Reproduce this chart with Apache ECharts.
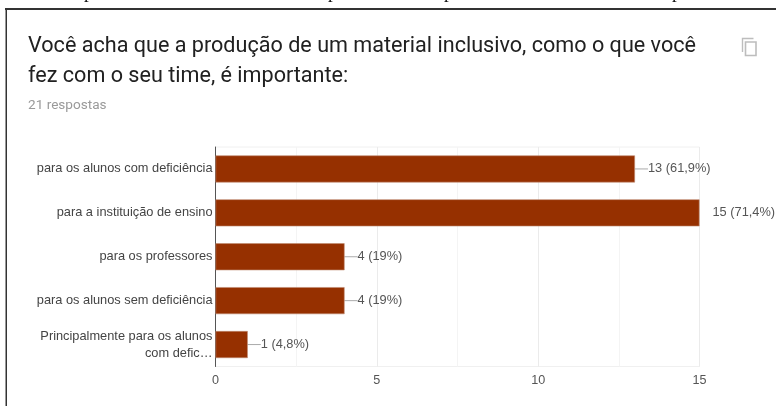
<!DOCTYPE html>
<html>
<head>
<meta charset="utf-8">
<style>html,body{margin:0;padding:0;background:#fff}#c{width:776px;height:406px}</style>
<script src="https://cdn.jsdelivr.net/npm/echarts@6/dist/echarts.min.js"></script>
</head>
<body>
<div id="c"></div>
<script>
const categories = [
  'para os alunos com deficiência',
  'para a instituição de ensino',
  'para os professores',
  'para os alunos sem deficiência',
  'Principalmente para os alunos\ncom defic…'
];
const counts = [13, 15, 4, 4, 1];
const shares = ['61,9%', '71,4%', '19%', '19%', '4,8%'];
const heading = 'Você acha que a produção de um material inclusivo, como o que você\nfez com o seu time, é importante:';
const responses = '21 respostas';
const tickValues = [0, 5, 10, 15];

const chart = echarts.init(document.getElementById('c'), null, { renderer: 'canvas' });
const font = 'Roboto, Arial, sans-serif';
const chartFont = '"Liberation Sans", Arial, sans-serif';

// Descenders of the line of body text running above the card
const clippedLine = [88, 332, 448, 676].map(x => ({
  type: 'text', x: x - 4, y: -16, silent: true,
  style: { text: 'p', font: '19px "Liberation Serif", serif', fill: '#111' }
}));

chart.setOption({
  animation: false,
  backgroundColor: '#fff',
  title: {
    text: heading, subtext: responses, left: 28, top: 31.5, itemGap: 7, padding: 0,
    textStyle: { fontFamily: font, fontSize: 21.6, fontWeight: 400, color: '#212121', lineHeight: 30 },
    subtextStyle: { fontFamily: font, fontSize: 13.6, color: '#9a9a9a' }
  },
  grid: { left: 215.5, right: 76.5, top: 147, bottom: 39.5, show: true, borderColor: '#f0f0f0', borderWidth: 1, containLabel: false },
  xAxis: {
    type: 'value', min: 0, max: 15, interval: 5,
    axisLine: { show: false }, axisTick: { show: false },
    axisLabel: { fontFamily: chartFont, fontSize: 12.6, color: '#555', margin: 8,
      formatter: v => tickValues.includes(v) ? String(v) : '' },
    splitLine: { lineStyle: { color: '#ebebeb', width: 1 } },
    minorTick: { show: false, splitNumber: 2 },
    minorSplitLine: { show: true, lineStyle: { color: '#f4f4f4', width: 1 } }
  },
  yAxis: {
    type: 'category', inverse: true, data: categories,
    axisTick: { show: false },
    axisLine: { lineStyle: { color: '#555', width: 1 } },
    axisLabel: { fontFamily: chartFont, fontSize: 12.8, color: '#444', margin: 3, lineHeight: 17, padding: [3, 0, 0, 0], align: 'right' }
  },
  series: [{
    type: 'bar', barWidth: 27,
    data: counts.map(value => ({
      value,
      labelLine: { show: value !== Math.max(...counts) }
    })),
    itemStyle: { color: '#963000', borderColor: '#c08a70', borderWidth: 0.6 },
    label: {
      show: true, position: 'right', distance: 0,
      fontFamily: chartFont, fontSize: 12.8, color: '#555',
      padding: [1, 0, 0, 0],
      formatter: p => `${p.value} (${shares[p.dataIndex]})`
    },
    labelLayout: () => ({ dx: 13 }),
    labelLine: { show: true, lineStyle: { color: '#aaa', width: 1 } }
  }],
  graphic: [
    { type: 'rect', silent: true, shape: { x: 5, y: 8, width: 771, height: 2 }, style: { fill: '#333' } },
    { type: 'rect', silent: true, shape: { x: 5.5, y: 8, width: 1.5, height: 398 }, style: { fill: '#333' } },
    ...clippedLine,
    // copy icon in the card's top right corner
    { type: 'polyline', silent: true, shape: { points: [[753.5, 38.5], [742.5, 38.5], [742.5, 52]] }, style: { stroke: '#bdbdbd', lineWidth: 1.4, fill: 'none' } },
    { type: 'rect', silent: true, shape: { x: 745.5, y: 42, width: 10.5, height: 13.5 }, style: { stroke: '#bdbdbd', lineWidth: 1.6, fill: '#fff' } }
  ]
});
</script>
</body>
</html>
